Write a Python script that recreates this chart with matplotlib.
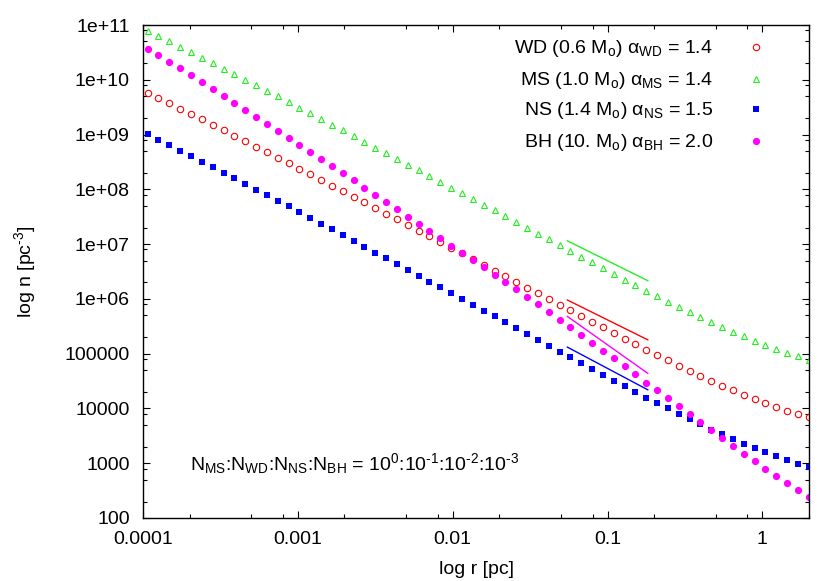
import numpy as np
import matplotlib
matplotlib.use("Agg")
import matplotlib.pyplot as plt
from matplotlib.ticker import LogLocator, FixedLocator, NullFormatter

plt.rcParams['font.family'] = ['Liberation Sans', 'DejaVu Sans']
plt.rcParams['mathtext.fontset'] = 'custom'
plt.rcParams['mathtext.rm'] = 'Liberation Sans'
plt.rcParams['mathtext.it'] = 'Liberation Sans'
plt.rcParams['mathtext.bf'] = 'Liberation Sans:bold'
plt.rcParams['font.size'] = 14

# ---- data (log10 values) ----
log_r = [-3.97, -3.90, -3.83, -3.76, -3.69, -3.62, -3.55, -3.48, -3.41, -3.34,
         -3.27, -3.20, -3.13, -3.06, -2.99, -2.92, -2.85, -2.78, -2.71, -2.64,
         -2.57, -2.50, -2.43, -2.36, -2.29, -2.22, -2.15, -2.08, -2.01, -1.94,
         -1.87, -1.80, -1.73, -1.66, -1.59, -1.52, -1.45, -1.38, -1.31, -1.24,
         -1.17, -1.10, -1.03, -0.96, -0.89, -0.82, -0.75, -0.68, -0.61, -0.54,
         -0.47, -0.40, -0.33, -0.26, -0.19, -0.12, -0.05, 0.02, 0.09, 0.16,
         0.23, 0.30]

log_n_wd = [9.765, 9.668, 9.571, 9.473, 9.376, 9.279, 9.181, 9.078, 8.980, 8.877,
            8.780, 8.676, 8.573, 8.476, 8.372, 8.275, 8.172, 8.068, 7.965, 7.867,
            7.763, 7.660, 7.556, 7.452, 7.348, 7.244, 7.141, 7.037, 6.933, 6.829,
            6.726, 6.622, 6.518, 6.414, 6.311, 6.207, 6.104, 6.000, 5.897, 5.793,
            5.684, 5.586, 5.483, 5.380, 5.276, 5.173, 5.075, 4.978, 4.881, 4.783,
            4.686, 4.595, 4.504, 4.418, 4.333, 4.254, 4.169, 4.096, 4.023, 3.956,
            3.895, 3.841]

log_n_ms = [10.897, 10.799, 10.702, 10.605, 10.501, 10.404, 10.301, 10.203, 10.100, 9.996,
            9.899, 9.796, 9.698, 9.595, 9.491, 9.388, 9.285, 9.181, 9.078, 8.968,
            8.865, 8.761, 8.657, 8.553, 8.449, 8.345, 8.241, 8.137, 8.033, 7.929,
            7.825, 7.721, 7.617, 7.513, 7.409, 7.302, 7.192, 7.089, 6.979, 6.876,
            6.772, 6.669, 6.560, 6.456, 6.353, 6.255, 6.152, 6.049, 5.951, 5.848,
            5.763, 5.666, 5.574, 5.483, 5.398, 5.319, 5.240, 5.161, 5.088, 5.021,
            4.954, 4.887]

log_n_ns = [9.005, 8.907, 8.804, 8.707, 8.609, 8.506, 8.409, 8.305, 8.202, 8.099,
            7.995, 7.892, 7.795, 7.694, 7.588, 7.482, 7.376, 7.270, 7.164, 7.058,
            6.952, 6.846, 6.740, 6.634, 6.528, 6.422, 6.316, 6.210, 6.104, 5.998,
            5.892, 5.786, 5.680, 5.574, 5.468, 5.361, 5.252, 5.148, 5.039, 4.936,
            4.826, 4.723, 4.613, 4.510, 4.412, 4.297, 4.199, 4.102, 3.999, 3.901,
            3.804, 3.707, 3.609, 3.530, 3.439, 3.354, 3.269, 3.196, 3.123, 3.050,
            2.989, 2.922]

log_n_bh = [10.568, 10.453, 10.331, 10.209, 10.082, 9.960, 9.832, 9.710, 9.577, 9.455,
            9.321, 9.193, 9.066, 8.938, 8.804, 8.682, 8.555, 8.427, 8.293, 8.165,
            8.032, 7.900, 7.767, 7.635, 7.502, 7.369, 7.237, 7.104, 6.971, 6.839,
            6.706, 6.574, 6.441, 6.308, 6.176, 6.043, 5.903, 5.763, 5.623, 5.483,
            5.337, 5.197, 5.057, 4.917, 4.771, 4.631, 4.473, 4.339, 4.187, 4.041,
            3.895, 3.749, 3.603, 3.457, 3.311, 3.172, 3.032, 2.892, 2.758, 2.630,
            2.509, 2.381]

# slope guide lines: r range, slopes, starting log n
guide_r = [0.055, 0.182]
guide_alpha = {'WD': 1.4, 'MS': 1.4, 'NS': 1.5, 'BH': 2.0}
guide_logn0 = {'WD': 5.98, 'MS': 7.06, 'NS': 5.12, 'BH': 5.68}

keys = ['WD', 'MS', 'NS', 'BH']
labels = {
    'WD': r'WD (0.6 M$_{o}$) $\alpha_{WD}$ = 1.4',
    'MS': r'MS (1.0 M$_{o}$) $\alpha_{MS}$ = 1.4',
    'NS': r'NS (1.4 M$_{o}$) $\alpha_{NS}$ = 1.5',
    'BH': r'BH (10. M$_{o}$) $\alpha_{BH}$ = 2.0',
}
colors = {'WD': '#ff0000', 'MS': '#22ee22', 'NS': '#0000ff', 'BH': '#ff00ff'}
styles = {'WD': dict(marker='o', mfc='none', ms=4.6, mew=0.8),
          'MS': dict(marker='^', mfc='none', ms=4.8, mew=0.8),
          'NS': dict(marker='s', ms=4.0, mew=0),
          'BH': dict(marker='o', ms=5.2, mew=0)}
values = {'WD': log_n_wd, 'MS': log_n_ms, 'NS': log_n_ns, 'BH': log_n_bh}

x_ticks = [0.0001, 0.001, 0.01, 0.1, 1]
x_ticklabels = ['0.0001', '0.001', '0.01', '0.1', '1']
y_ticks = [1e2, 1e3, 1e4, 1e5, 1e6, 1e7, 1e8, 1e9, 1e10, 1e11]
y_ticklabels = ['100', '1000', '10000', '100000', '1e+06', '1e+07', '1e+08',
                '1e+09', '1e+10', '1e+11']

r = 10 ** np.array(log_r)

W, H = 830, 581
L, R, T, B = 143, 809, 25, 518
fig = plt.figure(figsize=(W / 100, H / 100), dpi=100)
ax = fig.add_axes([L / W, 1 - B / H, (R - L) / W, (B - T) / H])
ax.set_xscale('log')
ax.set_yscale('log')

for key in keys:
    ax.plot(r, 10 ** np.array(values[key]), ls='none', color=colors[key],
            mec=colors[key], **styles[key])

gr = np.array(guide_r)
for key in ['MS', 'WD', 'BH', 'NS']:
    n0 = 10 ** guide_logn0[key]
    ax.plot(gr, n0 * (gr / gr[0]) ** (-guide_alpha[key]), color=colors[key], lw=1.0)

ax.set_xlim(1e-4, 2)
ax.set_ylim(100, 1e11)

ax.xaxis.set_major_locator(FixedLocator(x_ticks))
ax.set_xticklabels(x_ticklabels)
ax.yaxis.set_major_locator(FixedLocator(y_ticks))
ax.set_yticklabels(y_ticklabels)
ax.xaxis.set_minor_locator(LogLocator(base=10, subs=[2, 5, 8], numticks=20))
ax.yaxis.set_minor_locator(LogLocator(base=10, subs=[2, 5, 8], numticks=20))
ax.xaxis.set_minor_formatter(NullFormatter())
ax.yaxis.set_minor_formatter(NullFormatter())
ax.tick_params(which='both', direction='in', top=True, right=True, width=0.8,
               color='black')
ax.tick_params(which='major', length=5, labelsize=14, pad=9.5)
ax.tick_params(which='minor', length=2.6)
for s in ax.spines.values():
    s.set_linewidth(1.0)

ax.set_xlabel('log r [pc]', fontsize=14)
ax.xaxis.set_label_coords(0.5, (B - 570) / (B - T))
ax.xaxis.label.set_va('center')
ax.set_ylabel(r'log n [pc$^{\text{-3}}$]', fontsize=14)
ax.yaxis.set_label_coords((25 - L) / (R - L), 0.5)
ax.yaxis.label.set_va('center')

ax.text(190 / W, 1 - 470 / H,
        r'N$_{MS}$:N$_{WD}$:N$_{NS}$:N$_{BH}$ = 10$^{0}$:10$^{\text{-1}}$:10$^{\text{-2}}$:10$^{\text{-3}}$',
        transform=fig.transFigure, ha='left', va='baseline', fontsize=14)

# key (gnuplot style: right-aligned text, sample marker to the right)
row_y = [47.3, 79.0, 109.3, 141.0]
text_right = 713
mark_x = 756
for key, yy in zip(keys, row_y):
    fig.text(text_right / W, 1 - (yy + 6) / H, labels[key], ha='right',
             va='baseline', fontsize=14)
    ax.plot([(mark_x - L) / (R - L)], [(B - yy) / (B - T)], ls='none',
            color=colors[key], mec=colors[key], transform=ax.transAxes,
            clip_on=False, **styles[key])

fig.savefig('out.png', dpi=100)
